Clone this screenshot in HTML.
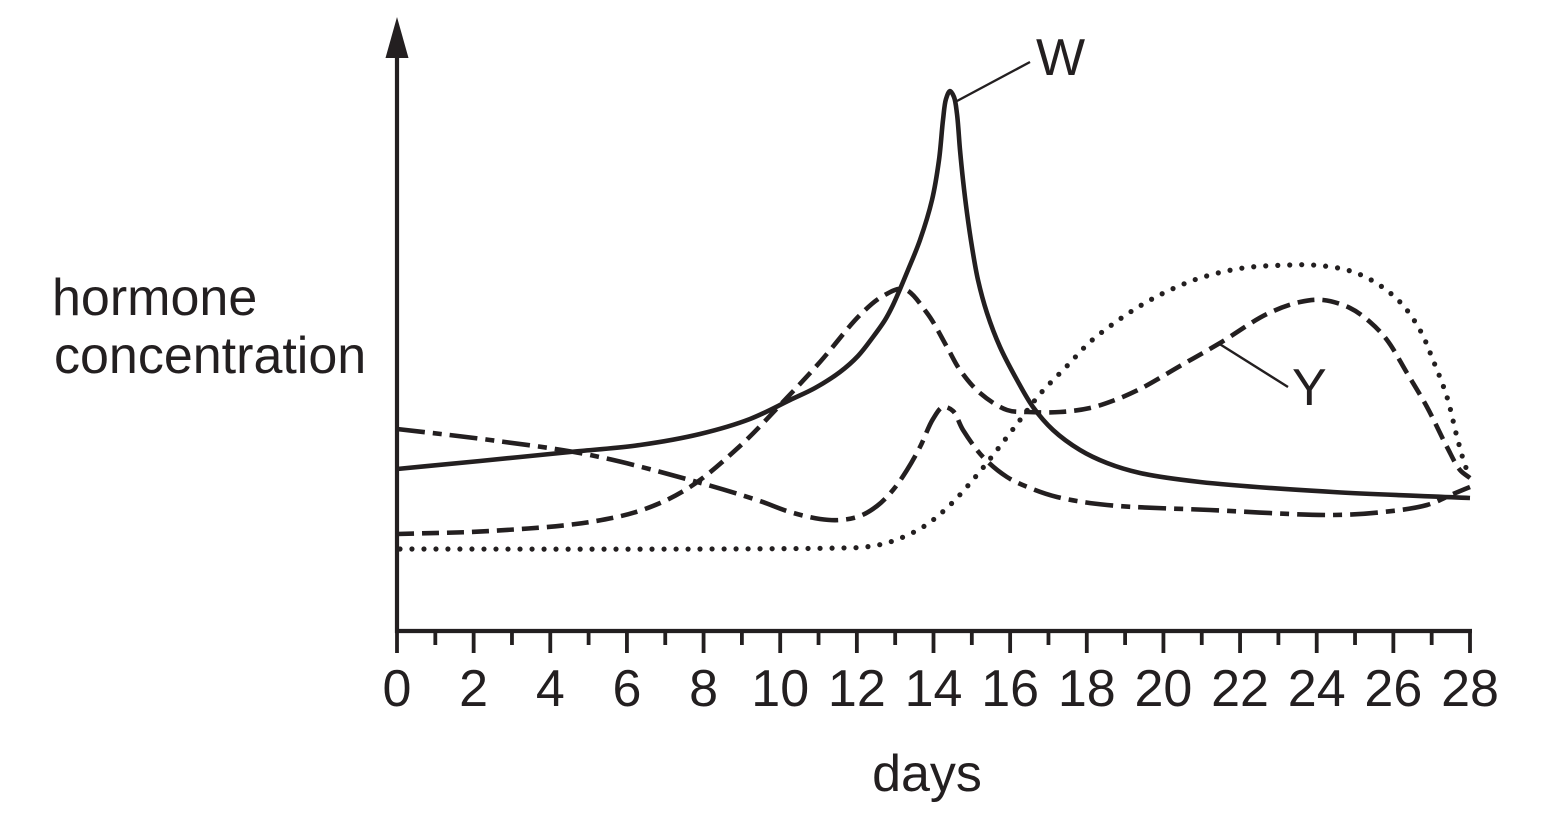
<!DOCTYPE html>
<html>
<head>
<meta charset="utf-8">
<style>
  html, body { margin: 0; padding: 0; background: #fff; }
  svg { display: block; }
  text { font-family: "Liberation Sans", Arial, sans-serif; fill: #231f20; }
</style>
</head>
<body>
<svg id="chart" width="1543" height="813" viewBox="0 0 1543 813" xmlns="http://www.w3.org/2000/svg">
  <rect width="1543" height="813" fill="#fff"/>
  <!-- axes -->
  <line x1="397" y1="50" x2="397" y2="633" stroke="#231f20" stroke-width="4.2"/>
  <line x1="395" y1="631" x2="1472" y2="631" stroke="#231f20" stroke-width="4.2"/>
  <polygon points="397,17 385.5,58 408.5,58" fill="#231f20"/>
  <g id="ticks" stroke="#231f20" stroke-width="3.8"></g>
  <g id="labels" font-size="52" text-anchor="middle"></g>

  <text x="52" y="315" font-size="52">hormone</text>
  <text x="54" y="373" font-size="52">concentration</text>
  <text x="927" y="791" font-size="52" text-anchor="middle">days</text>
  <text x="1036" y="75" font-size="52">W</text>
  <text x="1292" y="405" font-size="52">Y</text>

  <!-- leader lines -->
  <line x1="957" y1="101" x2="1030" y2="62" stroke="#231f20" stroke-width="2.4"/>
  <line x1="1218" y1="343" x2="1288" y2="387" stroke="#231f20" stroke-width="2.4"/>

  <g id="curves" fill="none" stroke="#231f20" stroke-width="4.6"></g>
</svg>
<script>
(function(){
  var NS = "http://www.w3.org/2000/svg";
  var ticks = document.getElementById("ticks");
  var labels = document.getElementById("labels");
  for (var d = 0; d <= 28; d++) {
    var x = 397 + d * (1470 - 397) / 28;
    var l = document.createElementNS(NS, "line");
    l.setAttribute("x1", x); l.setAttribute("x2", x);
    l.setAttribute("y1", 631); l.setAttribute("y2", d % 2 === 0 ? 653 : 645);
    ticks.appendChild(l);
    if (d % 2 === 0) {
      var t = document.createElementNS(NS, "text");
      t.setAttribute("x", x); t.setAttribute("y", 706);
      t.textContent = String(d);
      labels.appendChild(t);
    }
  }
  function dist(a, b) { var dx = a[0]-b[0], dy = a[1]-b[1]; return Math.max(Math.sqrt(dx*dx+dy*dy), 1e-6); }
  function cr(pts) {
    var n = pts.length;
    var d = "M" + pts[0][0] + "," + pts[0][1];
    for (var i = 0; i < n - 1; i++) {
      var p1 = pts[i], p2 = pts[i + 1];
      var p0 = i > 0 ? pts[i - 1] : [2*p1[0]-p2[0], 2*p1[1]-p2[1]];
      var p3 = i + 2 < n ? pts[i + 2] : [2*p2[0]-p1[0], 2*p2[1]-p1[1]];
      var d1 = dist(p0,p1), d2 = dist(p1,p2), d3 = dist(p2,p3);
      var a1 = Math.sqrt(d1), a2 = Math.sqrt(d2), a3 = Math.sqrt(d3);
      var b1 = [], b2 = [];
      for (var k = 0; k < 2; k++) {
        b1[k] = (d1*p2[k] - d2*p0[k] + (2*d1 + 3*a1*a2 + d2)*p1[k]) / (3*a1*(a1+a2));
        b2[k] = (d3*p1[k] - d2*p3[k] + (2*d3 + 3*a3*a2 + d2)*p2[k]) / (3*a3*(a3+a2));
      }
      d += " C" + b1[0].toFixed(2) + "," + b1[1].toFixed(2) + " " + b2[0].toFixed(2) + "," + b2[1].toFixed(2) + " " + p2[0] + "," + p2[1];
    }
    return d;
  }
  var curves = document.getElementById("curves");
  function add(pts, dash, cap, w) {
    var p = document.createElementNS(NS, "path");
    p.setAttribute("d", cr(pts));
    if (dash) p.setAttribute("stroke-dasharray", dash);
    p.setAttribute("stroke-linecap", cap || "butt");
    if (w) p.setAttribute("stroke-width", w);
    curves.appendChild(p);
  }
  // W solid
  add([[397,469],[480,461],[570,452],[640,445],[700,434],[750,419],[790,400],[815,388],[840,372],[858,356],[873,337],[885,320],[893,305],[908,270],[920,240],[932,200],[939,160],[943,120],[946,99],[950,91],[954,97],[957,114],[960,150],[963,180],[967,213],[972,247],[978,280],[987,313],[1000,347],[1017,380],[1033,407],[1053,430],[1080,450],[1107,463],[1140,473],[1200,482],[1333,492],[1470,498]]);
  // Y dashed
  add([[397,534],[490,531],[590,522],[645,509],[690,487],[740,446],[782,403],[820,362],[860,315],[883,296],[904,289],[927,313],[947,347],[960,370],[980,393],[1007,410],[1027,412],[1060,412],[1090,408],[1115,400],[1140,389],[1180,366],[1220,343],[1267,314],[1300,302],[1323,300],[1350,308],[1370,322],[1387,340],[1407,373],[1427,407],[1447,447],[1460,470],[1470,478]], "17 8", "butt", 4.6);
  // dotted
  add([[400,549],[700,549],[840,548],[865,547],[890,542],[923,527],[950,505],[977,475],[997,450],[1020,420],[1040,394],[1067,366],[1090,342],[1120,319],[1145,303],[1170,290],[1200,278],[1243,268],[1290,265],[1313,265],[1347,270],[1373,281],[1400,302],[1420,330],[1433,360],[1447,397],[1457,437],[1465,465],[1470,477]], "0 12", "round", 5.2);
  // dash-dot
  add([[397,429],[490,440],[590,455],[690,480],[757,500],[790,512],[820,519],[840,520],[860,516],[877,506],[893,490],[907,470],[920,447],[933,419],[943,407],[953,411],[963,430],[983,457],[1007,477],[1030,488],[1057,497],[1107,505],[1210,510],[1333,515],[1383,512],[1427,505],[1453,494],[1470,487]], "28 8 9 8", "butt", 4.6);
})();
</script>
</body>
</html>
